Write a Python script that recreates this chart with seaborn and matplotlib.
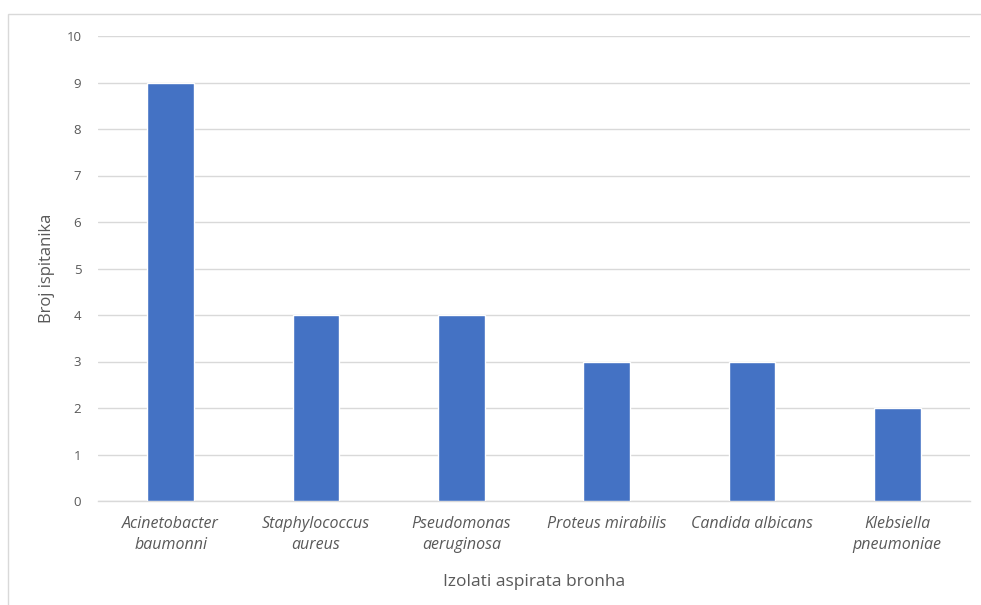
import matplotlib
matplotlib.use("Agg")
import matplotlib.pyplot as plt
import seaborn as sns
import pandas as pd
from matplotlib.patches import Rectangle

categories = ["Acinetobacter\nbaumonni", "Staphylococcus\naureus", "Pseudomonas\naeruginosa",
              "Proteus mirabilis", "Candida albicans", "Klebsiella\npneumoniae"]
values = [9, 4, 4, 3, 3, 2]
yticks = [0, 1, 2, 3, 4, 5, 6, 7, 8, 9, 10]

sns.set_theme(style="white")
plt.rcParams['font.family'] = ['Open Sans', 'DejaVu Sans']

df = pd.DataFrame({"cat": categories, "val": values})

fig = plt.figure(figsize=(9.81, 6.05), dpi=100)
ax = fig.add_axes([98/981, 1-501/605, (970-98)/981, (501-36)/605])

sns.barplot(data=df, x="cat", y="val", color="#4472C4", width=0.32, ax=ax, saturation=1, zorder=3)

ax.set_ylim(0, 10)
ax.set_yticks(yticks)
ax.set_xlim(-0.5, len(categories) - 0.5)
ax.yaxis.grid(True, color="#d9d9d9", linewidth=1, zorder=0)
ax.set_axisbelow(True)
for s in ["top", "right", "left"]:
    ax.spines[s].set_visible(False)
ax.spines["bottom"].set_color("#d9d9d9")
ax.spines["bottom"].set_linewidth(1)

ax.tick_params(axis="both", length=0, colors="#595959")
ax.tick_params(axis="y", pad=12, labelsize=9.5)
ax.tick_params(axis="x", pad=11, labelsize=11.5)
for lbl in ax.get_xticklabels():
    lbl.set_fontstyle("italic")
    lbl.set_linespacing(1.4)

ax.set_xlabel("Izolati aspirata bronha", color="#595959", fontsize=12.5, labelpad=15)
ax.set_ylabel("Broj ispitanika", color="#595959", fontsize=12, labelpad=8)

fig.patches.append(Rectangle((8/981, -0.01), 1.0, 1 - 14/605 + 0.01, transform=fig.transFigure,
                             fill=False, edgecolor="#d9d9d9", linewidth=1))

fig.savefig("out.png", dpi=100)
